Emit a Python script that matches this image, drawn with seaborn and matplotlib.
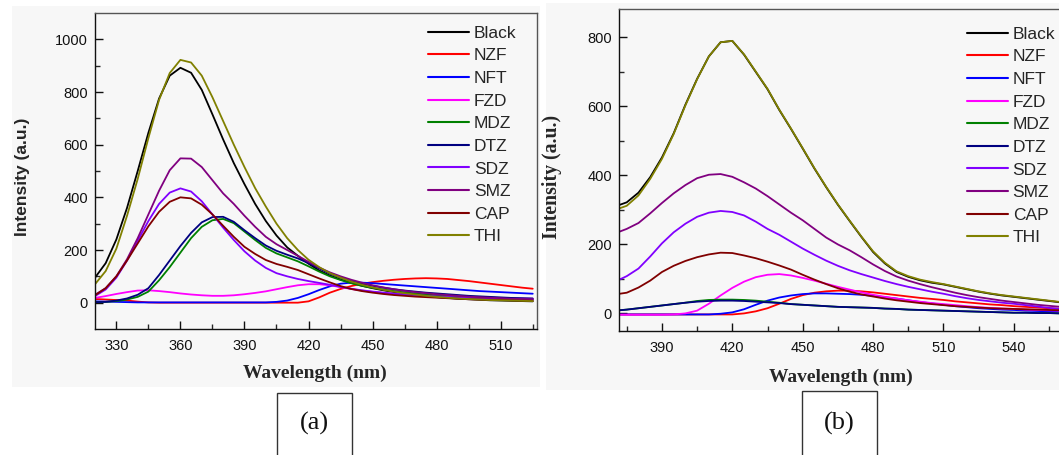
import numpy as np
import pandas as pd
import matplotlib
matplotlib.use("Agg")
import matplotlib.pyplot as plt
from matplotlib.patches import Rectangle
import seaborn as sns

# ---------------- data ----------------
names = ["Black", "NZF", "NFT", "FZD", "MDZ", "DTZ", "SDZ", "SMZ", "CAP", "THI"]
colors = ["#000000", "#FF0000", "#0000FF", "#FF00FF", "#008000",
          "#000080", "#8000FF", "#800080", "#800000", "#808000"]

# panel (a): 320..525 nm, step 5
wl_a = list(range(320, 530, 5))
a_black = [95, 150, 240, 360, 500, 645, 775, 862, 892, 873, 808, 715, 620, 530, 450, 375, 310, 255, 210, 178, 148,
           122, 103, 88, 75, 64, 55, 47, 40, 34, 29, 25, 21, 18, 15, 13, 11, 9, 8, 7, 6, 5]
a_nzf = [14, 12, 10, 8, 4, 1, 0, 0, 0, 0, 0, 0, 0, 0, 0, 0, 0, 0, 0, 0, 5,
         20, 38, 52, 63, 72, 78, 83, 87, 90, 92, 93, 92, 90, 86, 82, 77, 72, 67, 62, 57, 53]
a_nft = [5, 4, 3, 2, 1, 1, 1, 1, 1, 1, 1, 1, 1, 1, 1, 1, 1, 3, 8, 18, 32,
         48, 62, 72, 76, 76, 74, 71, 68, 65, 62, 59, 56, 53, 50, 47, 44, 42, 40, 38, 36, 34]
a_fzd = [18, 25, 33, 40, 46, 47, 44, 40, 35, 31, 28, 26, 26, 28, 32, 37, 43, 51, 59, 66, 70,
         70, 66, 59, 52, 46, 41, 37, 34, 31, 29, 27, 25, 24, 22, 21, 20, 19, 18, 17, 16, 15]
a_mdz = [2, 3, 6, 12, 22, 42, 85, 135, 190, 245, 288, 313, 318, 302, 270, 238, 208, 187, 172, 157, 138,
         118, 100, 86, 74, 64, 56, 50, 44, 39, 35, 31, 28, 25, 22, 20, 18, 16, 14, 13, 12, 11]
a_dtz = [2, 3, 8, 16, 30, 55, 105, 160, 215, 265, 305, 325, 326, 307, 275, 245, 217, 197, 182, 168, 150,
         130, 110, 95, 82, 72, 64, 57, 51, 46, 42, 38, 35, 32, 29, 26, 24, 22, 20, 18, 17, 16]
a_sdz = [25, 50, 95, 160, 235, 310, 375, 418, 434, 422, 385, 335, 285, 238, 195, 160, 132, 112, 100, 90, 82,
         75, 68, 60, 53, 47, 42, 38, 34, 31, 28, 26, 24, 22, 20, 18, 17, 16, 15, 14, 13, 12]
a_smz = [30, 55, 100, 165, 245, 335, 425, 503, 548, 547, 515, 465, 415, 375, 330, 288, 250, 222, 200, 178, 155,
         133, 115, 100, 87, 76, 66, 58, 51, 45, 40, 36, 32, 29, 26, 23, 21, 19, 17, 15, 14, 13]
a_cap = [28, 55, 100, 160, 225, 290, 345, 383, 400, 396, 372, 335, 292, 250, 212, 185, 162, 147, 136, 124, 108,
         92, 77, 63, 52, 44, 38, 33, 29, 26, 23, 21, 19, 17, 15, 13, 12, 11, 10, 9, 8, 7]
a_thi = [70, 120, 205, 330, 470, 625, 770, 872, 922, 912, 862, 780, 690, 600, 515, 435, 365, 300, 245, 200, 163,
         135, 112, 95, 80, 68, 58, 49, 42, 36, 31, 26, 22, 19, 16, 14, 12, 10, 9, 8, 7, 6]

# panel (b): 370..560 nm, step 5
wl_b = list(range(370, 565, 5))
b_black = [310, 322, 350, 395, 452, 522, 605, 680, 745, 786, 790, 750, 700, 650, 590, 535, 478, 420, 366, 315,
           268, 222, 178, 145, 120, 106, 96, 89, 84, 77, 70, 63, 57, 52, 48, 44, 40, 36, 32]
b_nzf = [-3, -3, -3, -3, -3, -3, -3, -3, -3, -3, -3, 0, 6, 15, 28, 42, 53, 60, 64, 66,
         66, 64, 61, 57, 53, 49, 45, 42, 39, 35, 32, 29, 26, 24, 21, 19, 17, 15, 13]
b_nft = [-3, -3, -3, -3, -3, -3, -3, -3, -3, -1, 3, 12, 25, 37, 46, 52, 56, 58, 58, 57,
         56, 54, 51, 47, 43, 38, 33, 29, 25, 21, 18, 15, 13, 11, 10, 8, 7, 6, 5]
b_fzd = [-4, -4, -4, -4, -4, -3, 0, 8, 28, 52, 74, 92, 105, 112, 114, 110, 103, 95, 86, 77,
         69, 61, 54, 48, 43, 38, 34, 30, 27, 24, 21, 18, 16, 14, 13, 11, 10, 9, 8]
b_mdz = [8, 11, 15, 19, 23, 27, 31, 36, 39, 40, 40, 39, 37, 34, 31, 27, 25, 23, 21, 19,
         18, 17, 16, 14, 13, 11, 10, 9, 8, 7, 6, 5, 4, 3, 2, 2, 1, 1, 0]
b_dtz = [8, 11, 15, 19, 23, 27, 31, 34, 36, 37, 37, 36, 34, 32, 30, 27, 25, 23, 21, 19,
         18, 17, 16, 14, 13, 11, 10, 9, 8, 7, 6, 5, 4, 3, 2, 2, 1, 1, 0]
b_sdz = [92, 108, 130, 165, 203, 235, 260, 280, 292, 297, 294, 284, 266, 245, 228, 208, 188, 170, 153, 138,
         125, 114, 104, 94, 85, 77, 70, 63, 57, 50, 44, 39, 35, 31, 28, 24, 20, 16, 13]
b_smz = [232, 245, 262, 290, 320, 348, 372, 392, 402, 404, 396, 380, 362, 340, 316, 292, 270, 245, 220, 200,
         183, 163, 142, 123, 107, 95, 85, 76, 68, 60, 53, 47, 42, 37, 33, 29, 25, 22, 19]
b_cap = [55, 60, 75, 95, 120, 138, 152, 163, 171, 176, 175, 168, 160, 150, 139, 127, 112, 98, 85, 73,
         63, 55, 49, 43, 38, 34, 30, 27, 24, 21, 19, 17, 15, 14, 13, 12, 11, 10, 9]
b_thi = [300, 312, 342, 390, 448, 520, 603, 679, 745, 786, 790, 751, 701, 651, 591, 536, 479, 421, 367, 316,
         269, 223, 180, 147, 122, 108, 98, 91, 85, 78, 71, 64, 58, 53, 49, 45, 41, 37, 33]

series_a = [a_black, a_nzf, a_nft, a_fzd, a_mdz, a_dtz, a_sdz, a_smz, a_cap, a_thi]
series_b = [b_black, b_nzf, b_nft, b_fzd, b_mdz, b_dtz, b_sdz, b_smz, b_cap, b_thi]

def long_df(wl, series):
    frames = []
    for n, s in zip(names, series):
        frames.append(pd.DataFrame({"Wavelength": wl, "Intensity": s, "Sample": n}))
    return pd.concat(frames, ignore_index=True)

df_a = long_df(wl_a, series_a)
df_b = long_df(wl_b, series_b)

# ---------------- style ----------------
sns.set_style("ticks")
plt.rcParams["font.family"] = ["Liberation Sans", "DejaVu Sans"]
plt.rcParams["axes.unicode_minus"] = False

W, H = 1059, 455
fig = plt.figure(figsize=(W / 100, H / 100), dpi=100)
fig.patch.set_facecolor("white")

def px_rect(x0, y0, x1, y1):
    return (x0 / W, 1 - y1 / H, (x1 - x0) / W, (y1 - y0) / H)

# light gray panel backgrounds
for (x0, y0, x1, y1) in [(12, 6, 540, 387), (546, 3, 1059, 390)]:
    l, b, w, h = px_rect(x0, y0, x1, y1)
    fig.patches.append(Rectangle((l, b), w, h, transform=fig.transFigure,
                                 facecolor="#f7f7f7", edgecolor="none", zorder=-10))

ax_a = fig.add_axes(px_rect(95, 13, 537, 329))
ax_b = fig.add_axes(px_rect(619, 9.5, 1076, 331))

palette = dict(zip(names, colors))
serif = ["Liberation Serif", "DejaVu Serif"]
sans = ["Liberation Sans", "DejaVu Sans"]

for ax, df in [(ax_a, df_a), (ax_b, df_b)]:
    ax.set_facecolor("none")
    ax.set_zorder(2)
    sns.lineplot(data=df, x="Wavelength", y="Intensity", hue="Sample", hue_order=names,
                 palette=palette, linewidth=1.3, ax=ax, legend=True, estimator=None)
    for side in ["left", "bottom"]:
        ax.spines[side].set_color("#111111")
        ax.spines[side].set_linewidth(1.0)
    for side in ["top", "right"]:
        ax.spines[side].set_visible(True)
        ax.spines[side].set_color("#555555")
        ax.spines[side].set_linewidth(1.0)
    ax.tick_params(which="major", direction="in", length=6, width=1, labelsize=10.5,
                   pad=5, top=False, right=False, colors="#111111")
    ax.tick_params(which="minor", direction="in", length=3.5, width=1, top=False, right=False)
    ax.get_legend().remove()

# axis ranges and ticks
ax_a.set_xlim(320, 527)
ax_a.set_ylim(-100, 1100)
ax_a.set_xticks(np.arange(330, 521, 30))
ax_a.set_xticks(np.arange(345, 527, 30), minor=True)
ax_a.set_yticks(np.arange(0, 1001, 200))
ax_a.set_yticks(np.arange(100, 1001, 200), minor=True)

ax_b.set_xlim(371.7, 566.5)
ax_b.set_ylim(-51, 881)
ax_b.set_xticks(np.arange(390, 561, 30))
ax_b.set_xticks(np.arange(375, 566, 30), minor=True)
ax_b.set_yticks(np.arange(0, 801, 200))
ax_b.set_yticks(np.arange(100, 801, 200), minor=True)

ax_a.tick_params(axis="x", pad=7)
ax_b.tick_params(axis="x", pad=7)

# axis labels
ax_a.set_xlabel("Wavelength (nm)", fontfamily=serif, fontweight="bold", fontsize=14)
ax_a.set_ylabel("Intensity (a.u.)", fontfamily=sans, fontweight="bold", fontsize=12.5)
ax_b.set_xlabel("Wavelength (nm)", fontfamily=serif, fontweight="bold", fontsize=14)
ax_b.set_ylabel("Intensity (a.u.)", fontfamily=serif, fontweight="bold", fontsize=14.2)

for ax in (ax_a, ax_b):
    ax.xaxis.label.set_va("center")
    ax.yaxis.label.set_va("center")

ax_a.xaxis.set_label_coords(0.498, -0.139)
ax_a.yaxis.set_label_coords(-0.165, 0.481)
ax_b.xaxis.set_label_coords(0.486, -0.143)
ax_b.yaxis.set_label_coords(-0.147, 0.479)

# legends
for ax, (lx, ly) in [(ax_a, (419, 17)), (ax_b, (958, 18))]:
    h, l = ax.get_legend_handles_labels()
    leg = ax.legend(h, l, loc="upper left", bbox_to_anchor=(lx / W, 1 - ly / H),
                    bbox_transform=fig.transFigure, frameon=False, borderpad=0,
                    handlelength=2.4, handletextpad=0.25, labelspacing=0.43,
                    prop={"family": sans, "size": 12.5})
    for line in leg.get_lines():
        line.set_linewidth(1.5)

# (a) / (b) boxes
for (x0, x1, y0, txt, cx) in [(277, 352, 393, "(a)", 314), (802, 877, 391, "(b)", 839)]:
    l, b, w, h = px_rect(x0, y0, x1, 470)
    fig.patches.append(Rectangle((l, b), w, h, transform=fig.transFigure,
                                 facecolor="none", edgecolor="#333333", linewidth=1.0, zorder=3))
    fig.text(cx / W, 1 - 423 / H, txt, ha="center", va="center",
             fontfamily=serif, fontsize=19, color="#111111")

fig.savefig("out.png", dpi=100)
